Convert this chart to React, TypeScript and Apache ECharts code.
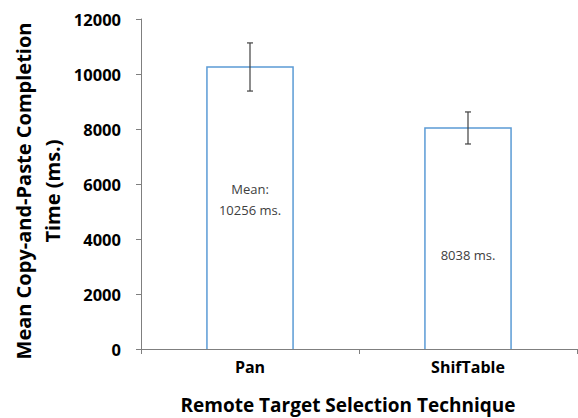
import React, { useEffect, useRef } from "react";
import * as echarts from "echarts";

const categories = ["Pan", "ShifTable"];
const means = [10256, 8038];
const errLow = [9380, 7455];
const errHigh = [11130, 8620];
const barLabels = ["Mean:\n10256 ms.", "8038 ms."];
const yTicks = { min: 0, max: 12000, interval: 2000 };
const yTitle = "Mean Copy-and-Paste Completion\nTime (ms.)";
const xTitle = "Remote Target Selection Technique";

const labelOffsets = [-8, 17];
const BAR_RATIO = 0.395;

export default function App() {
  const ref = useRef<HTMLDivElement>(null);
  useEffect(() => {
    const chart = echarts.init(ref.current!, undefined, { renderer: "svg" });
    const axisColor = "#7f7f7f";
    chart.setOption({
      animation: false,
      backgroundColor: "#ffffff",
      grid: { left: 141, right: 1, top: 19, bottom: 69, containLabel: false },
      xAxis: {
        type: "category",
        data: categories,
        z: 10,
        axisLine: { lineStyle: { color: axisColor, width: 1.2 } },
        axisTick: { show: true, alignWithLabel: false, length: 5, lineStyle: { color: axisColor } },
        axisLabel: {
          margin: 10,
          fontFamily: "Open Sans",
          fontWeight: "bold",
          fontSize: 16,
          color: "#000",
        },
      },
      yAxis: {
        type: "value",
        min: yTicks.min,
        max: yTicks.max,
        interval: yTicks.interval,
        splitLine: { show: false },
        axisLine: { show: true, lineStyle: { color: axisColor, width: 1 } },
        axisTick: { show: true, length: 5, lineStyle: { color: axisColor } },
        axisLabel: {
          margin: 20,
          fontFamily: "Open Sans",
          fontWeight: "bold",
          fontSize: 16.5,
          color: "#000",
          formatter: (v: number) => String(v),
        },
      },
      graphic: [
        {
          type: "text",
          x: 38,
          y: 191,
          rotation: Math.PI / 2,
          style: {
            text: yTitle,
            fontFamily: "Open Sans",
            fontWeight: "bold",
            fontSize: 20,
            lineHeight: 29,
            fill: "#000",
            align: "center",
            verticalAlign: "middle",
          },
        },
        {
          type: "text",
          x: 348,
          y: 405,
          style: {
            text: xTitle,
            fontFamily: "Open Sans",
            fontWeight: "bold",
            fontSize: 19,
            fill: "#000",
            align: "center",
            verticalAlign: "middle",
          },
        },
      ],
      series: [
        {
          type: "bar",
          barWidth: BAR_RATIO * 100 + "%",
          data: means.map((v, i) => ({
            value: v,
            label: {
              show: true,
              position: "inside",
              offset: [0, labelOffsets[i]],
              formatter: barLabels[i],
              fontFamily: "Open Sans",
              fontSize: 13,
              lineHeight: 21,
              color: "#404040",
            },
          })),
          itemStyle: { color: "#ffffff", borderWidth: 0 },
        },
        {
          type: "custom",
          data: means.map((v, i) => [i, v]),
          renderItem: (params: any, api: any) => {
            const i = api.value(0);
            const top = api.coord([i, api.value(1)]);
            const base = api.coord([i, 0]);
            const w = api.size([1, 0])[0] * BAR_RATIO;
            const x0 = top[0] - w / 2;
            const x1 = top[0] + w / 2;
            return {
              type: "polyline",
              shape: { points: [[x0, base[1]], [x0, top[1]], [x1, top[1]], [x1, base[1]]] },
              style: { stroke: "#5b9bd5", lineWidth: 1.5, fill: null },
            };
          },
          z: 3,
        },
        {
          type: "custom",
          data: categories.map((_, i) => [i, errLow[i], errHigh[i]]),
          renderItem: (params: any, api: any) => {
            const i = api.value(0);
            const lo = api.coord([i, api.value(1)]);
            const hi = api.coord([i, api.value(2)]);
            const cap = 3;
            const style = { stroke: "#404040", lineWidth: 1.2 };
            return {
              type: "group",
              children: [
                { type: "line", shape: { x1: lo[0], y1: lo[1], x2: hi[0], y2: hi[1] }, style },
                { type: "line", shape: { x1: lo[0] - cap, y1: lo[1], x2: lo[0] + cap, y2: lo[1] }, style },
                { type: "line", shape: { x1: hi[0] - cap, y1: hi[1], x2: hi[0] + cap, y2: hi[1] }, style },
              ],
            };
          },
          z: 5,
        },
      ],
    });
    return () => chart.dispose();
  }, []);
  return <div ref={ref} style={{ width: 578, height: 418, position: "absolute", left: 0, top: 0 }} />;
}
